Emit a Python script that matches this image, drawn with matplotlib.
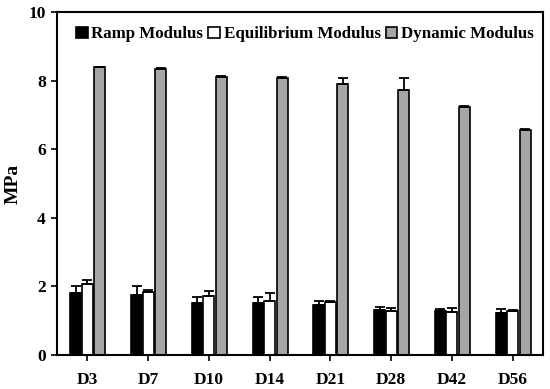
import matplotlib
matplotlib.use("Agg")
import matplotlib.pyplot as plt
import numpy as np

categories = ["D3", "D7", "D10", "D14", "D21", "D28", "D42", "D56"]
ramp = [1.80, 1.76, 1.51, 1.51, 1.45, 1.31, 1.28, 1.22]
ramp_err = [0.21, 0.25, 0.19, 0.19, 0.12, 0.10, 0.06, 0.11]
equil = [2.06, 1.85, 1.72, 1.58, 1.55, 1.29, 1.25, 1.29]
equil_err = [0.13, 0.05, 0.15, 0.23, 0.02, 0.08, 0.13, 0.03]
dynamic = [8.39, 8.34, 8.10, 8.09, 7.91, 7.72, 7.23, 6.57]
dynamic_err = [0.02, 0.02, 0.03, 0.01, 0.18, 0.37, 0.02, 0.03]
yticks = [0, 2, 4, 6, 8, 10]

plt.rcParams['font.family'] = ['Liberation Serif', 'DejaVu Serif']
plt.rcParams['font.weight'] = 'bold'

fig = plt.figure(figsize=(5.5, 3.89), dpi=100)
ax = fig.add_axes([57/550, 1-355/389, (543-57)/550, (355-12)/389])

x = np.arange(len(categories))
w = 0.18
ekw = dict(elinewidth=1.3, capthick=1.3, ecolor='black')
for off, vals, errs, col, lab in [(-0.19, ramp, ramp_err, 'black', 'Ramp Modulus'),
                                  (0.0, equil, equil_err, 'white', 'Equilibrium Modulus'),
                                  (0.205, dynamic, dynamic_err, '#a6a6a6', 'Dynamic Modulus')]:
    ax.bar(x + off, vals, width=w, color=col, edgecolor='black', linewidth=1.2,
           label=lab, zorder=2)
    ax.errorbar(x + off, vals, yerr=[np.zeros(len(vals)), errs], fmt='none',
                capsize=3.5, zorder=3, **ekw)

ax.set_xlim(-0.5, len(categories) - 0.5)
ax.set_ylim(0, 10)
ax.set_yticks(yticks)
ax.set_xticks(x)
ax.set_xticklabels(categories, fontsize=12.5, fontweight='bold')
ax.set_yticklabels([str(t) for t in yticks], fontsize=12.5, fontweight='bold')
ax.tick_params(direction='out', length=4.5, width=1.2)
ax.tick_params(axis='x', pad=8)
for s in ax.spines.values():
    s.set_linewidth(1.5)
ax.set_ylabel("MPa", fontsize=14, fontweight='bold', labelpad=5)

leg = ax.legend(loc='upper center', ncol=3, frameon=False, fontsize=12.2,
                handlelength=0.7, handleheight=0.7, handletextpad=0.2,
                columnspacing=0.3, borderaxespad=0.45, bbox_to_anchor=(0.51, 1.0))

fig.savefig("out.png", dpi=100)
